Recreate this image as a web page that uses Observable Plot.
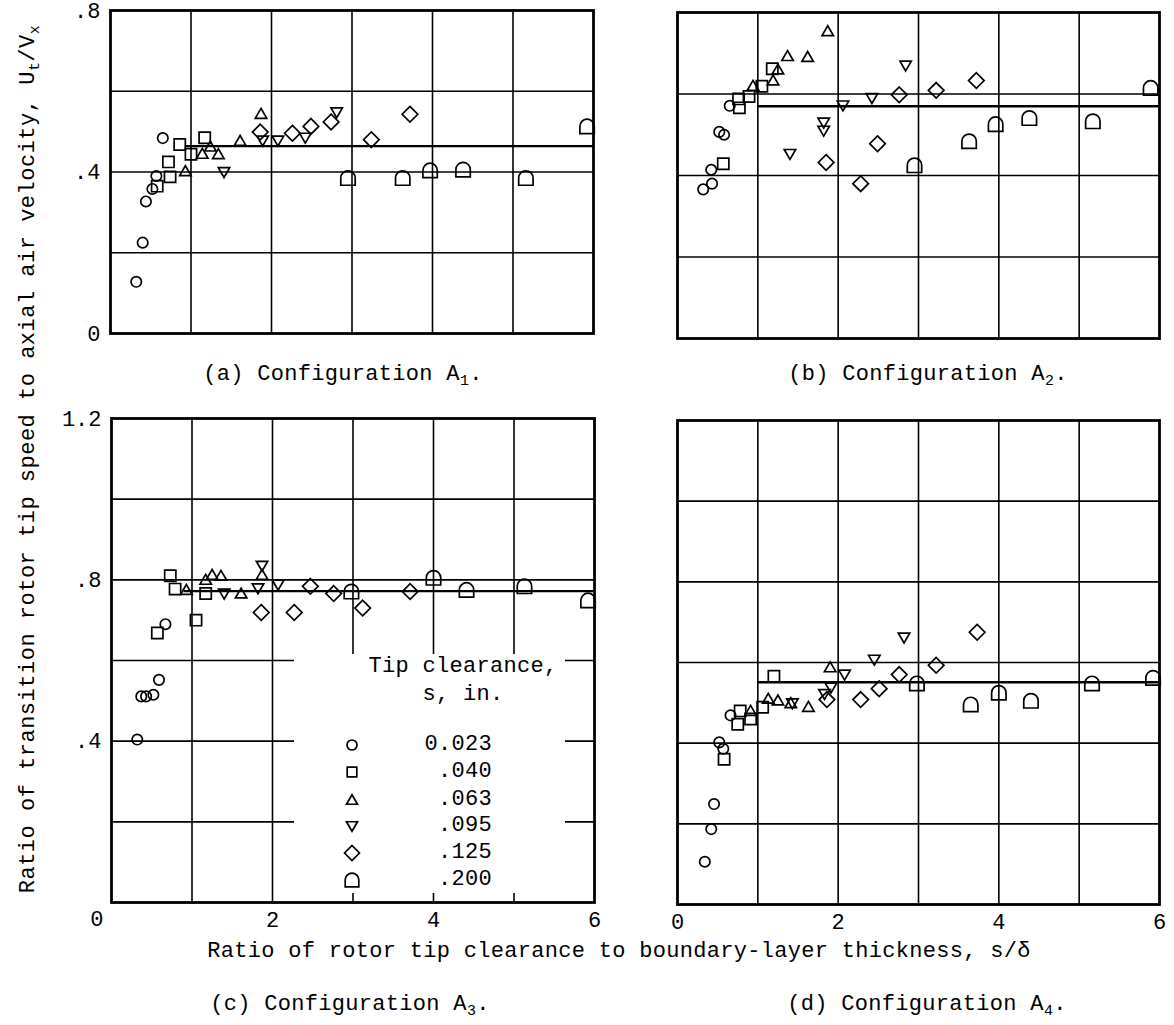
<!DOCTYPE html>
<html>
<head>
<meta charset="utf-8">
<script src="https://cdn.jsdelivr.net/npm/d3@7"></script>
<script src="https://cdn.jsdelivr.net/npm/@observablehq/plot@0.6"></script>
<style>
  html, body { margin: 0; padding: 0; background: white; }
  #page { position: relative; width: 1174px; height: 1025px; background: white; overflow: hidden; }
  .txt { position: absolute; white-space: nowrap; font-family: "Liberation Mono", "DejaVu Sans Mono", monospace;
         font-size: 22px; line-height: 1; color: black; letter-spacing: 0.3px; }
  .txt sub { font-size: 0.68em; vertical-align: -0.35em; line-height: 0; }
</style>
</head>
<body>
<div id="page"></div>
<script>
// ---------------- DATA ----------------
const clearanceLabels = ["0.023", ".040", ".063", ".095", ".125", ".200"];
const captions = ["(a) Configuration A<sub>1</sub>.", "(b) Configuration A<sub>2</sub>.",
                  "(c) Configuration A<sub>3</sub>.", "(d) Configuration A<sub>4</sub>."];
const xLabel = "Ratio of rotor tip clearance to boundary-layer thickness, s/&delta;";
const yLabel = "Ratio of transition rotor tip speed to axial air velocity, U<sub>t</sub>/V<sub>x</sub>";

const gridX = [1, 2, 3, 4, 5];
const gridYTop = [0.2, 0.4, 0.6];
const gridYBottom = [0.2, 0.4, 0.6, 0.8, 1.0];
const yTicksA = [0, 0.4, 0.8];
const yTicksC = [0.4, 0.8, 1.2];
const xTicksC = [2, 4, 6];
const xTicksD = [0, 2, 4, 6];
const originLabel = "0";

// fairing lines (level, start of line in s/delta)
const fairLevel = [0.464, 0.57, 0.772, 0.551];
const fairStart = [0.93, 1.0, 0.9, 1.0];

// Configuration A1
const A1_x_023 = [0.32, 0.40, 0.44, 0.52, 0.57, 0.65];
const A1_y_023 = [0.128, 0.225, 0.327, 0.358, 0.390, 0.484];
const A1_x_040 = [0.58, 0.72, 0.74, 0.86, 1.00, 1.17];
const A1_y_040 = [0.365, 0.425, 0.388, 0.468, 0.444, 0.485];
const A1_x_063 = [0.93, 1.14, 1.24, 1.34, 1.61, 1.87];
const A1_y_063 = [0.402, 0.445, 0.463, 0.444, 0.477, 0.544];
const A1_x_095 = [1.41, 1.89, 2.08, 2.42, 2.81];
const A1_y_095 = [0.400, 0.478, 0.478, 0.485, 0.548];
const A1_x_125 = [1.86, 2.26, 2.49, 2.74, 3.24, 3.72];
const A1_y_125 = [0.499, 0.496, 0.513, 0.524, 0.480, 0.543];
const A1_x_200 = [2.95, 3.63, 3.97, 4.38, 5.16, 5.92];
const A1_y_200 = [0.385, 0.385, 0.404, 0.406, 0.385, 0.513];

// Configuration A2
const A2_x_023 = [0.32, 0.43, 0.42, 0.52, 0.58, 0.65];
const A2_y_023 = [0.366, 0.380, 0.414, 0.507, 0.500, 0.571];
const A2_x_040 = [0.57, 0.77, 0.76, 0.89, 1.05, 1.18];
const A2_y_040 = [0.429, 0.566, 0.588, 0.594, 0.619, 0.662];
const A2_x_063 = [0.94, 1.19, 1.25, 1.37, 1.62, 1.87];
const A2_y_063 = [0.620, 0.633, 0.660, 0.693, 0.691, 0.754];
const A2_x_095 = [1.40, 1.82, 1.82, 2.06, 2.42, 2.84];
const A2_y_095 = [0.453, 0.530, 0.510, 0.572, 0.590, 0.670];
const A2_x_125 = [1.85, 2.28, 2.49, 2.76, 3.22, 3.72];
const A2_y_125 = [0.432, 0.380, 0.478, 0.598, 0.609, 0.633];
const A2_x_200 = [2.95, 3.63, 3.96, 4.38, 5.17, 5.89];
const A2_y_200 = [0.425, 0.484, 0.526, 0.541, 0.533, 0.615];

// Configuration A3
const A3_x_023 = [0.32, 0.37, 0.43, 0.52, 0.59, 0.67];
const A3_y_023 = [0.404, 0.511, 0.511, 0.515, 0.552, 0.690];
const A3_x_040 = [0.57, 0.73, 0.79, 1.05, 1.17];
const A3_y_040 = [0.668, 0.810, 0.777, 0.700, 0.766];
const A3_x_063 = [0.93, 1.17, 1.25, 1.36, 1.61, 1.87];
const A3_y_063 = [0.775, 0.800, 0.812, 0.810, 0.766, 0.812];
const A3_x_095 = [1.40, 1.82, 1.87, 2.07];
const A3_y_095 = [0.766, 0.779, 0.835, 0.788];
const A3_x_125 = [1.86, 2.27, 2.47, 2.76, 3.12, 3.71];
const A3_y_125 = [0.719, 0.719, 0.784, 0.766, 0.730, 0.771];
const A3_x_200 = [2.98, 4.00, 4.41, 5.13, 5.92];
const A3_y_200 = [0.771, 0.805, 0.775, 0.784, 0.749];

// Configuration A4
const A4_x_023 = [0.34, 0.42, 0.455, 0.52, 0.57, 0.66];
const A4_y_023 = [0.106, 0.187, 0.249, 0.402, 0.386, 0.469];
const A4_x_040 = [0.58, 0.75, 0.78, 0.91, 1.06, 1.20];
const A4_y_040 = [0.360, 0.447, 0.480, 0.460, 0.489, 0.566];
const A4_x_063 = [0.91, 1.13, 1.25, 1.41, 1.63, 1.90];
const A4_y_063 = [0.480, 0.510, 0.506, 0.499, 0.490, 0.588];
const A4_x_095 = [1.43, 1.83, 1.91, 2.08, 2.45, 2.82];
const A4_y_095 = [0.499, 0.522, 0.538, 0.570, 0.607, 0.662];
const A4_x_125 = [1.86, 2.28, 2.51, 2.76, 3.22, 3.73];
const A4_y_125 = [0.508, 0.508, 0.535, 0.570, 0.593, 0.675];
const A4_x_200 = [2.98, 3.65, 4.00, 4.40, 5.16, 5.92];
const A4_y_200 = [0.548, 0.496, 0.525, 0.505, 0.548, 0.562];

// ---------------- SYMBOLS ----------------
const rad = size => Math.sqrt(size / Math.PI);
const symCircle = { draw(c, s) { const r = rad(s); c.moveTo(r, 0); c.arc(0, 0, r, 0, 2 * Math.PI); } };
const symSquare = { draw(c, s) { const r = rad(s); c.moveTo(-r, -r); c.lineTo(r, -r); c.lineTo(r, r); c.lineTo(-r, r); c.closePath(); } };
const symTriUp = { draw(c, s) { const r = rad(s); c.moveTo(0, -r * 1.05); c.lineTo(r * 1.1, r * 0.85); c.lineTo(-r * 1.1, r * 0.85); c.closePath(); } };
const symTriDown = { draw(c, s) { const r = rad(s); c.moveTo(0, r * 1.05); c.lineTo(r * 1.1, -r * 0.85); c.lineTo(-r * 1.1, -r * 0.85); c.closePath(); } };
const symDiamond = { draw(c, s) { const r = rad(s); c.moveTo(0, -r); c.lineTo(r, 0); c.lineTo(0, r); c.lineTo(-r, 0); c.closePath(); } };
const symArch = { draw(c, s) { const r = rad(s); c.moveTo(-r, r); c.lineTo(-r, 0); c.arc(0, 0, r, Math.PI, 2 * Math.PI); c.lineTo(r, r); c.closePath(); } };

const SYMS = [symCircle, symSquare, symTriUp, symTriDown, symDiamond, symArch];
const SIZES = [5.2, 5.6, 5.2, 5.2, 7.8, 7.2];
const LEG_SIZES = [5.0, 4.8, 5.0, 5.0, 7.5, 6.8];

// ---------------- LAYOUT ----------------
const page = document.getElementById("page");
const FONT = '"Liberation Mono", "DejaVu Sans Mono", monospace';
const fmtY = d => d === 0 ? "0" : d3.format(".1f")(d).replace(/^0/, "");

const panelSeries = [
  [[A1_x_023, A1_y_023], [A1_x_040, A1_y_040], [A1_x_063, A1_y_063], [A1_x_095, A1_y_095], [A1_x_125, A1_y_125], [A1_x_200, A1_y_200]],
  [[A2_x_023, A2_y_023], [A2_x_040, A2_y_040], [A2_x_063, A2_y_063], [A2_x_095, A2_y_095], [A2_x_125, A2_y_125], [A2_x_200, A2_y_200]],
  [[A3_x_023, A3_y_023], [A3_x_040, A3_y_040], [A3_x_063, A3_y_063], [A3_x_095, A3_y_095], [A3_x_125, A3_y_125], [A3_x_200, A3_y_200]],
  [[A4_x_023, A4_y_023], [A4_x_040, A4_y_040], [A4_x_063, A4_y_063], [A4_x_095, A4_y_095], [A4_x_125, A4_y_125], [A4_x_200, A4_y_200]]
];

const panels = [
  { left: 110, right: 593, top: 10, bottom: 333, ymax: 0.8, gridY: gridYTop, yTicks: yTicksA, xTicks: null },
  { left: 677, right: 1159, top: 12, bottom: 338, ymax: 0.8, gridY: gridYTop, yTicks: null, xTicks: null },
  { left: 111, right: 594, top: 418, bottom: 902, ymax: 1.2, gridY: gridYBottom, yTicks: yTicksC, xTicks: xTicksC },
  { left: 677, right: 1159, top: 420, bottom: 904, ymax: 1.2, gridY: gridYBottom, yTicks: null, xTicks: xTicksD }
];

panels.forEach((p, i) => {
  const mL = 60, mR = 25, mT = 15, mB = 45;
  const seriesMarks = panelSeries[i].map(([xs, ys], k) =>
    Plot.dot(xs.map((x, j) => ({ x, y: ys[j] })), {
      x: "x", y: "y", symbol: SYMS[k], r: SIZES[k],
      fill: "none", stroke: "black", strokeWidth: 1.7
    })
  );
  const fair = [{ y: fairLevel[i], x1: fairStart[i], x2: 6 }];
  const chart = Plot.plot({
    width: (p.right - p.left) + mL + mR,
    height: (p.bottom - p.top) + mT + mB,
    marginLeft: mL, marginRight: mR, marginTop: mT, marginBottom: mB,
    x: p.xTicks ? { domain: [0, 6], label: null, ticks: p.xTicks, tickSize: 0, tickPadding: 9, tickFormat: d => String(d) }
                : { domain: [0, 6], axis: null },
    y: p.yTicks ? { domain: [0, p.ymax], label: null, ticks: p.yTicks, tickSize: 0, tickPadding: 10, tickFormat: fmtY }
                : { domain: [0, p.ymax], axis: null },
    style: { fontFamily: FONT, fontSize: "22px", background: "transparent", color: "black", overflow: "visible" },
    marks: [
      Plot.ruleX(gridX, { stroke: "black", strokeWidth: 1.6 }),
      Plot.ruleY(p.gridY, { stroke: "black", strokeWidth: 1.6 }),
      Plot.ruleY(fair, { y: "y", x1: "x1", x2: "x2", stroke: "black", strokeWidth: 2.3 }),
      ...seriesMarks,
      Plot.frame({ stroke: "black", strokeWidth: 2.8 })
    ]
  });
  chart.style.position = "absolute";
  chart.style.left = (p.left - mL) + "px";
  chart.style.top = (p.top - mT) + "px";
  page.appendChild(chart);
});

// ---------------- TEXT ----------------
function addText(html, cx, cy, opts = {}) {
  const d = document.createElement("div");
  d.className = "txt";
  d.innerHTML = html;
  d.style.left = cx + "px";
  d.style.top = cy + "px";
  const anchor = opts.anchor || "middle";
  const tx = anchor === "end" ? "-100%" : anchor === "start" ? "0%" : "-50%";
  d.style.transform = `translate(${tx}, -50%)`;
  if (opts.rotate) { d.style.transform = `translate(-50%, -50%) rotate(${opts.rotate}deg)`; }
  if (opts.ls != null) d.style.letterSpacing = opts.ls + "px";
  page.appendChild(d);
  return d;
}

addText(captions[0], 343, 375);
addText(captions[1], 928, 375);
addText(captions[2], 350, 1005);
addText(captions[3], 927, 1005);
addText(xLabel, 619, 952, { ls: 0.3 });
addText(yLabel, 29, 459, { rotate: -90, ls: 0.5 });
addText(originLabel, 97, 921);

// ---------------- LEGEND (panel c) ----------------
const box = document.createElement("div");
Object.assign(box.style, { position: "absolute", left: "294px", top: "654px", width: "271px", height: "239px", background: "white" });
page.appendChild(box);

addText("Tip clearance,", 463, 667);
addText("s, in.", 463, 695);
const rowY = [745, 772, 800, 826, 853, 880];
clearanceLabels.forEach((lab, k) => {
  const svg = d3.create("svg").attr("width", 24).attr("height", 24)
    .style("position", "absolute").style("left", (352 - 12) + "px").style("top", (rowY[k] - 12) + "px")
    .style("overflow", "visible");
  svg.append("path")
    .attr("transform", "translate(12,12)")
    .attr("d", d3.symbol(SYMS[k], Math.PI * LEG_SIZES[k] * LEG_SIZES[k])())
    .attr("fill", "none").attr("stroke", "black").attr("stroke-width", 1.7);
  page.appendChild(svg.node());
  addText(lab, 492, rowY[k], { anchor: "end" });
});
</script>
</body>
</html>
